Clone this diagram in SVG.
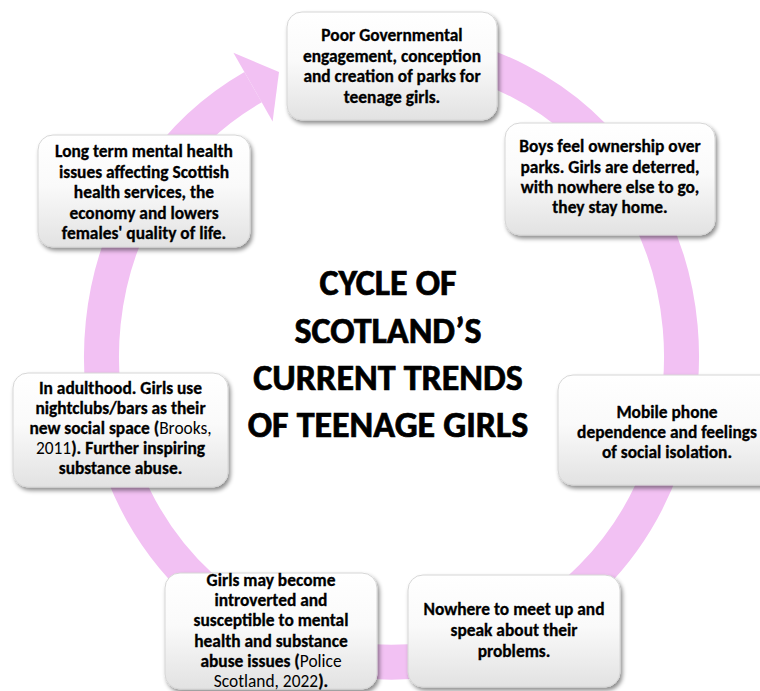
<svg xmlns="http://www.w3.org/2000/svg" width="760" height="691" viewBox="0 0 760 691">
  <defs>
    <linearGradient id="boxFill" x1="0" y1="0" x2="0" y2="1">
      <stop offset="0" stop-color="#FFFFFF"/>
      <stop offset="0.45" stop-color="#FAFAFA"/>
      <stop offset="1" stop-color="#E2E2E2"/>
    </linearGradient>
    <filter id="shadow" x="-10%" y="-10%" width="125%" height="130%">
      <feDropShadow dx="2" dy="3" stdDeviation="2.2" flood-color="#000000" flood-opacity="0.45"/>
    </filter>
  </defs>
  <style>
    .box { fill: url(#boxFill); stroke: #D6D6D6; stroke-width: 1; filter: url(#shadow); }
    .txt { font-family: Carlito, Lato, "Liberation Sans", sans-serif; font-size: 17.4px; font-weight: bold; fill: #000000; stroke: #000000; stroke-width: 0.3px; text-anchor: middle; }
    .reg { font-weight: normal; stroke-width: 0; }
    .title { font-family: Carlito, Lato, "Liberation Sans", sans-serif; font-size: 36px; font-weight: bold; fill: #000000; stroke: #000000; stroke-width: 0.7px; text-anchor: middle; }
    .ring { fill: none; stroke: #F2C1F3; stroke-width: 35; }
    .head { fill: #F2C1F3; }
  </style>
  <rect width="760" height="691" fill="#FFFFFF"/>

  <!-- circular arrow running clockwise behind the stages -->
  <g id="connectors">
    <path class="ring" d="M 391.5 50 A 290 306 0 1 1 253.1 87.1"/>
    <polygon class="head" points="233.4,52.8 279,72 272.6,121.4"/>
  </g>

  <!-- centre heading -->
  <g id="title">
    <text class="title" x="388" y="295">CYCLE OF</text>
    <text class="title" x="388" y="343">SCOTLAND’S</text>
    <text class="title" x="388" y="390">CURRENT TRENDS</text>
    <text class="title" x="388" y="437">OF TEENAGE GIRLS</text>
  </g>

  <g id="node-government">
    <rect class="box" x="287" y="12" width="210" height="108" rx="15"/>
    <text class="txt" x="392" y="41">Poor Governmental</text>
    <text class="txt" x="392" y="61.5">engagement, conception</text>
    <text class="txt" x="392" y="82">and creation of parks for</text>
    <text class="txt" x="392" y="102.5">teenage girls.</text>
  </g>

  <g id="node-ownership">
    <rect class="box" x="505" y="123" width="210" height="112" rx="15"/>
    <text class="txt" x="610" y="152">Boys feel ownership over</text>
    <text class="txt" x="610" y="173">parks. Girls are deterred,</text>
    <text class="txt" x="610" y="193">with nowhere else to go,</text>
    <text class="txt" x="610" y="213">they stay home.</text>
  </g>

  <g id="node-mobile">
    <rect class="box" x="558" y="375" width="218" height="110" rx="15"/>
    <text class="txt" x="667" y="418">Mobile phone</text>
    <text class="txt" x="667" y="438">dependence and feelings</text>
    <text class="txt" x="667" y="458">of social isolation.</text>
  </g>

  <g id="node-nowhere">
    <rect class="box" x="408" y="575" width="212" height="112" rx="15"/>
    <text class="txt" x="514" y="615">Nowhere to meet up and</text>
    <text class="txt" x="514" y="636">speak about their</text>
    <text class="txt" x="514" y="657">problems.</text>
  </g>

  <g id="node-introverted">
    <rect class="box" x="165" y="573" width="212" height="116" rx="15"/>
    <text class="txt" x="271" y="586">Girls may become</text>
    <text class="txt" x="271" y="606">introverted and</text>
    <text class="txt" x="271" y="626">susceptible to mental</text>
    <text class="txt" x="271" y="647">health and substance</text>
    <text class="txt" x="271" y="667">abuse issues (<tspan class="reg">Police</tspan></text>
    <text class="txt" x="271" y="687"><tspan class="reg">Scotland, 2022</tspan>).</text>
  </g>

  <g id="node-adulthood">
    <rect class="box" x="13" y="373" width="215" height="114" rx="15"/>
    <text class="txt" x="120.5" y="394">In adulthood. Girls use</text>
    <text class="txt" x="120.5" y="414">nightclubs/bars as their</text>
    <text class="txt" x="120.5" y="434">new social space (<tspan class="reg">Brooks,</tspan></text>
    <text class="txt" x="120.5" y="454"><tspan class="reg">2011</tspan>). Further inspiring</text>
    <text class="txt" x="120.5" y="474">substance abuse.</text>
  </g>

  <g id="node-longterm">
    <rect class="box" x="38" y="135" width="212" height="112" rx="15"/>
    <text class="txt" x="144" y="157">Long term mental health</text>
    <text class="txt" x="144" y="178">issues affecting Scottish</text>
    <text class="txt" x="144" y="198">health services, the</text>
    <text class="txt" x="144" y="219">economy and lowers</text>
    <text class="txt" x="144" y="239">females' quality of life.</text>
  </g>
</svg>
